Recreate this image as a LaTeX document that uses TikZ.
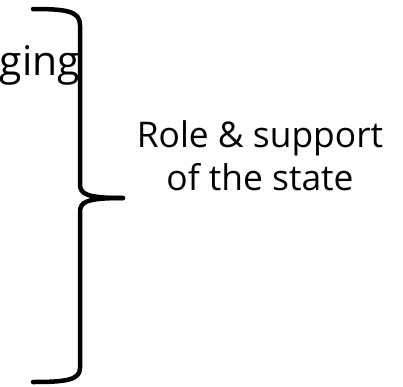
\documentclass[tikz,border=0pt]{standalone}
\usepackage{fontspec}
\setmainfont{Open Sans}
\usepackage{tikz}

\begin{document}
\begin{tikzpicture}[x=1bp,y=-1bp]
		% Styles for the brace and the texts
		\tikzset{bracestroke/.style={line width=4.5bp, line cap=round, line join=round},
			bigword/.style={inner sep=0pt, font=\fontsize{41}{50}\selectfont},
			sidelabel/.style={inner sep=0pt, align=center, font=\fontsize{35.5}{43}\selectfont}}
		
		% Fix the page size
		\useasboundingbox (0,0) rectangle (403,387);
		
		% Corner points of the brace
		\coordinate (top) at (33,9);
		\coordinate (tip) at (123,198);
		\coordinate (bottom) at (33,382);
		
		% Draw the brace from top to tip and down to the bottom
		\draw[bracestroke] (top) .. controls (66,9) and (80,11) .. (80,25) -- (80,184)
			.. controls (80,194) and (86,198) .. (tip);
		\draw[bracestroke] (tip) .. controls (86,198) and (80,202) .. (80,212) -- (80,368)
			.. controls (80,380) and (66,382) .. (bottom);
		
		% Add labels
		\node[bigword, anchor=base east] (word) at (80,75) {ging};
		\node[sidelabel, anchor=base] (role) at (260,190) {Role \& support\\of the state};
	\end{tikzpicture}
\end{document}
